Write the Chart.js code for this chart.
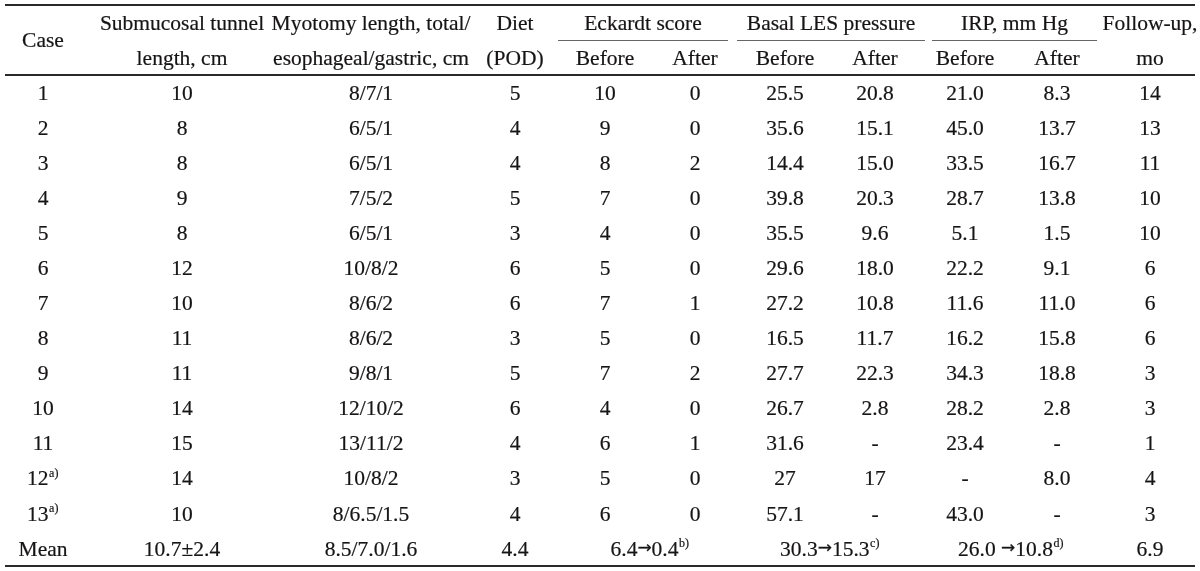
<!DOCTYPE html>
<html>
<head>
<meta charset="utf-8">
<script src="https://cdn.jsdelivr.net/npm/chart.js@4.4.0/dist/chart.umd.min.js"></script>
<style>
  html, body { margin: 0; background: #fff; }
  #wrap { width: 1200px; height: 571px; }
</style>
</head>
<body>
<div id="wrap"><canvas id="tbl"></canvas></div>
<script>
// table values, one array per column ('^' marks a footnote superscript)
const caseLabels = ['1', '2', '3', '4', '5', '6', '7', '8', '9', '10', '11', '12^a)', '13^a)'];
const tunnelLength = ['10', '8', '8', '9', '8', '12', '10', '11', '11', '14', '15', '14', '10'];
const myotomyLength = ['8/7/1', '6/5/1', '6/5/1', '7/5/2', '6/5/1', '10/8/2', '8/6/2', '8/6/2', '9/8/1', '12/10/2', '13/11/2', '10/8/2', '8/6.5/1.5'];
const dietPod = ['5', '4', '4', '5', '3', '6', '6', '3', '5', '6', '4', '3', '4'];
const eckardtBefore = ['10', '9', '8', '7', '4', '5', '7', '5', '7', '4', '6', '5', '6'];
const eckardtAfter = ['0', '0', '2', '0', '0', '0', '1', '0', '2', '0', '1', '0', '0'];
const lesBefore = ['25.5', '35.6', '14.4', '39.8', '35.5', '29.6', '27.2', '16.5', '27.7', '26.7', '31.6', '27', '57.1'];
const lesAfter = ['20.8', '15.1', '15.0', '20.3', '9.6', '18.0', '10.8', '11.7', '22.3', '2.8', '-', '17', '-'];
const irpBefore = ['21.0', '45.0', '33.5', '28.7', '5.1', '22.2', '11.6', '16.2', '34.3', '28.2', '23.4', '-', '43.0'];
const irpAfter = ['8.3', '13.7', '16.7', '13.8', '1.5', '9.1', '11.0', '15.8', '18.8', '2.8', '-', '8.0', '-'];
const followUp = ['14', '13', '11', '10', '10', '6', '6', '6', '3', '3', '1', '4', '3'];

// mean row, null = covered by the cell on its left
const meanRow = ['Mean', '10.7\u00b12.4', '8.5/7.0/1.6', '4.4', '6.4\u21920.4^b)', null, '30.3\u219215.3^c)', null, '26.0 \u219210.8^d)', null, '6.9'];

// header labels
const headLine1 = ['', 'Submucosal tunnel', 'Myotomy length, total/', 'Diet', '', '', '', '', '', '', 'Follow-up,'];
const headLine2 = ['', 'length, cm', 'esophageal/gastric, cm', '(POD)', 'Before', 'After', 'Before', 'After', 'Before', 'After', 'mo'];
const groupHeads = ['Eckardt score', 'Basal LES pressure', 'IRP, mm Hg'];
const spanHead = 'Case';

// layout (x in px units of the x scale, y in row units)
const colCenters = [43, 182, 371, 515, 605, 695, 785, 875, 965, 1057, 1150];
const groupSpans = [[558, 728], [737, 925], [932, 1097]];
const ruleSpan = [5, 1195];

const FONT = '"Liberation Serif", "Times New Roman", serif';
const ARROW_FONT = '"DejaVu Sans", sans-serif';
const FONT_SIZE = 21.5;
const TEXT_DY = 1.5;
const INK = '#161414';

const columns = [caseLabels, tunnelLength, myotomyLength, dietPod, eckardtBefore, eckardtAfter,
                 lesBefore, lesAfter, irpBefore, irpAfter, followUp];

function cellX(col, row) {
    // mean row cells that span two columns sit between them
    if (row === columns[0].length && meanRow[col + 1] === null) {
        return (colCenters[col] + colCenters[col + 1]) / 2;
    }
    return colCenters[col];
}

// one dataset per column, each point is one cell
const datasets = columns.map((values, c) => {
    const cells = values.concat([meanRow[c]]);
    return {
        label: 'col' + c,
        labels: cells,
        data: cells.map((v, r) => ({ x: cellX(c, r), y: 2.5 + r })),
        pointRadius: 0,
        showLine: false
    };
});

// header cells as one more dataset
const headCells = [];
const headPoints = [];
headLine1.forEach((t, c) => { if (t) { headCells.push(t); headPoints.push({ x: colCenters[c], y: 0.5 }); } });
headLine2.forEach((t, c) => { if (t) { headCells.push(t); headPoints.push({ x: colCenters[c], y: 1.5 }); } });
groupHeads.forEach((t, i) => {
    headCells.push(t);
    headPoints.push({ x: (groupSpans[i][0] + groupSpans[i][1]) / 2, y: 0.5 });
});
headCells.push(spanHead);
headPoints.push({ x: colCenters[0], y: 1 });
datasets.push({ label: 'head', labels: headCells, data: headPoints, pointRadius: 0, showLine: false });

// split a cell into runs: normal text, arrow, superscript
function runsOf(text) {
    const [main, sup] = text.split('^');
    const runs = [];
    main.split('\u2192').forEach((part, i) => {
        if (i > 0) runs.push({ t: '\u2192', font: Math.round(FONT_SIZE * 0.78) + 'px ' + ARROW_FONT, dy: -1, pad: 0 });
        if (part) runs.push({ t: part, font: FONT_SIZE + 'px ' + FONT, dy: 0, pad: 0 });
    });
    if (sup) runs.push({ t: sup, font: Math.round(FONT_SIZE * 0.56) + 'px ' + FONT, dy: -FONT_SIZE * 0.3, pad: 1 });
    return runs;
}

function drawRich(ctx, text, x, y) {
    const runs = runsOf(text);
    let total = 0;
    runs.forEach(r => {
        ctx.font = r.font;
        r.w = ctx.measureText(r.t).width;
        total += r.w + r.pad;
    });
    let left = x - total / 2;
    ctx.textAlign = 'left';
    ctx.textBaseline = 'middle';
    runs.forEach(r => {
        ctx.font = r.font;
        left += r.pad / 2;
        ctx.fillText(r.t, left, y + TEXT_DY + r.dy);
        ctx.strokeText(r.t, left, y + TEXT_DY + r.dy);
        left += r.w + r.pad / 2;
    });
}

const tablePlugin = {
    id: 'tablePlugin',
    afterDatasetsDraw(chart) {
        const { ctx, scales: { x, y } } = chart;
        ctx.save();
        ctx.fillStyle = INK;
        ctx.strokeStyle = INK;
        ctx.lineWidth = 0.2;
        chart.data.datasets.forEach((ds, i) => {
            const meta = chart.getDatasetMeta(i);
            meta.data.forEach((pt, j) => {
                const t = ds.labels[j];
                if (t) drawRich(ctx, t, pt.x, pt.y);
            });
        });

        // rules
        const hLine = (v, x0, x1, w, color) => {
            const py = Math.round(y.getPixelForValue(v)) + (w % 2 ? 0.5 : 0);
            ctx.lineWidth = w;
            ctx.strokeStyle = color;
            ctx.beginPath();
            ctx.moveTo(x.getPixelForValue(x0), py);
            ctx.lineTo(x.getPixelForValue(x1), py);
            ctx.stroke();
        };
        hLine(0, ruleSpan[0], ruleSpan[1], 2, '#2a2a2a');
        hLine(2, ruleSpan[0], ruleSpan[1], 2, '#2a2a2a');
        hLine(16, ruleSpan[0], ruleSpan[1], 2, '#2a2a2a');
        groupSpans.forEach(s => hLine(1, s[0], s[1], 1, '#666'));
        ctx.restore();
    }
};

new Chart(document.getElementById('tbl'), {
    type: 'scatter',
    data: { datasets },
    options: {
        responsive: true,
        maintainAspectRatio: false,
        animation: false,
        events: [],
        layout: { padding: { top: 5, bottom: 5, left: 0, right: 0 } },
        plugins: { legend: { display: false }, tooltip: { enabled: false } },
        scales: {
            x: { type: 'linear', display: false, min: 0, max: 1200 },
            y: { type: 'linear', display: false, min: 0, max: 16, reverse: true }
        }
    },
    plugins: [tablePlugin]
});
</script>
</body>
</html>
